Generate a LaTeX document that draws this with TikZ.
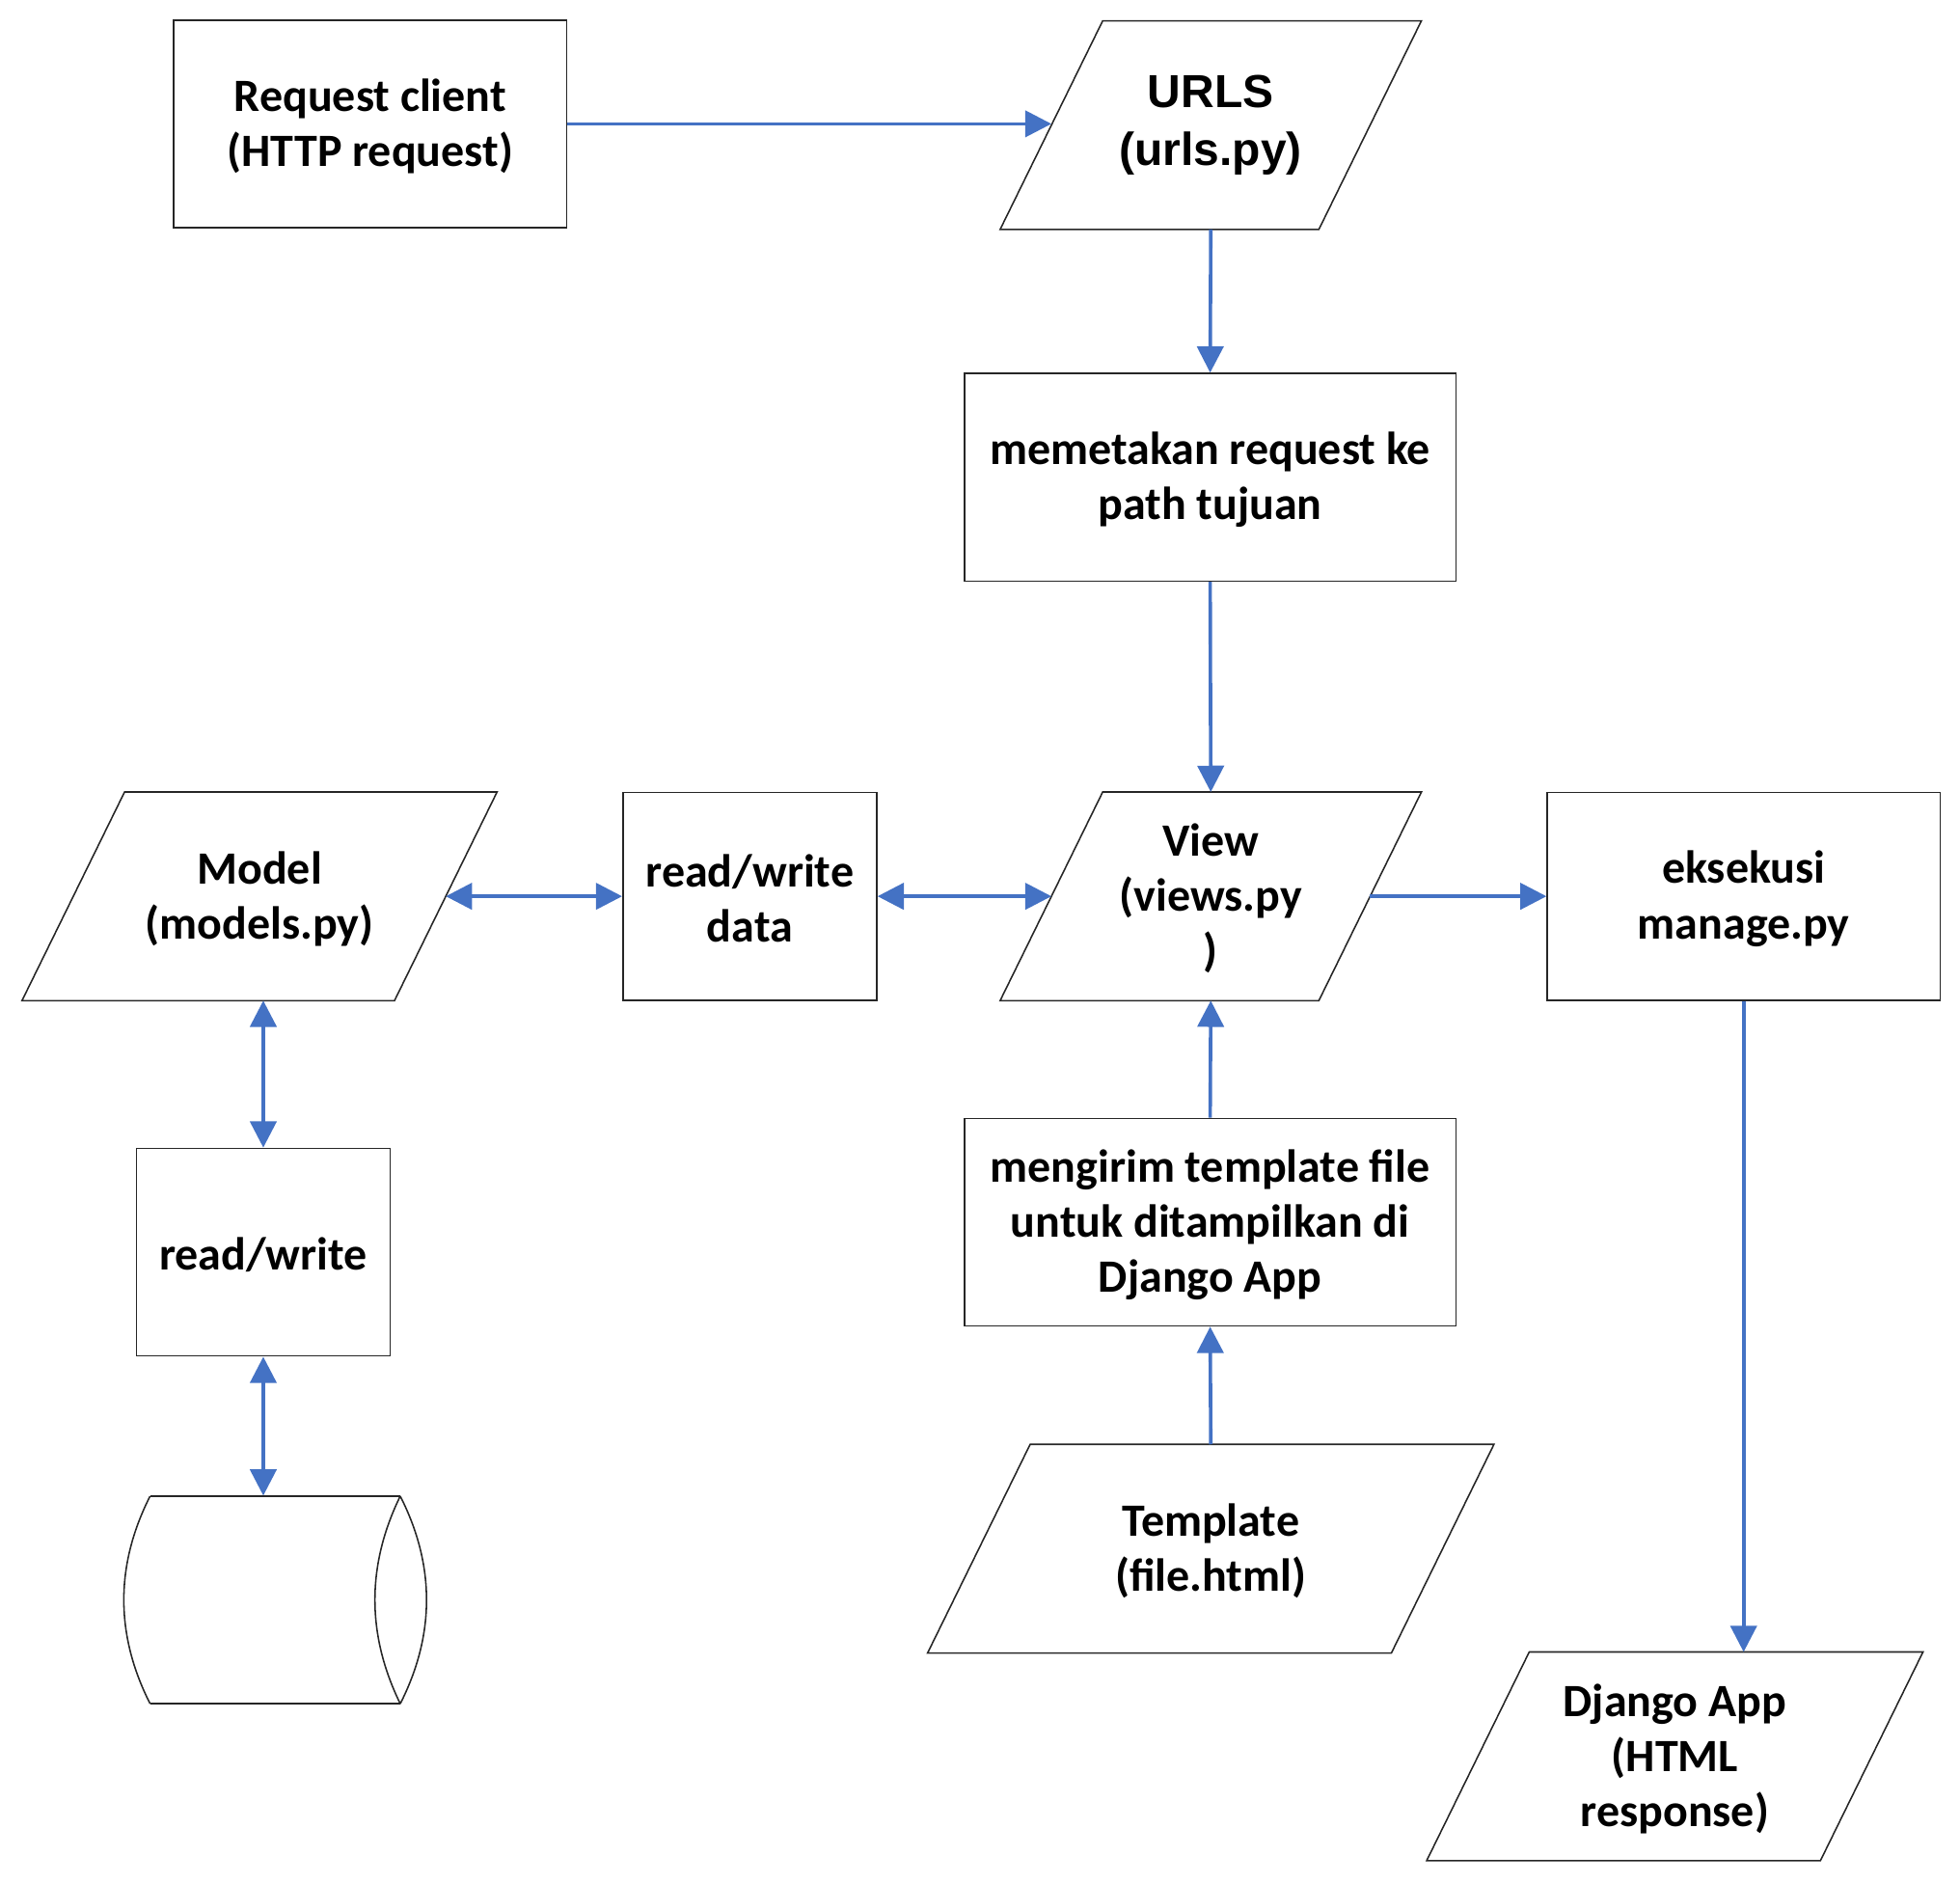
\documentclass[tikz,border=0pt]{standalone}
\usepackage{fontspec}
\setmainfont{Carlito}
\newfontfamily\arialfont{Liberation Sans}
\usetikzlibrary{arrows.meta}
\definecolor{officeblue}{HTML}{4472C4}
\tikzset{
  shapeline/.style={draw=black!85, line width=0.6pt},
  lbl/.style={inner sep=0pt, align=center, yshift=-1pt, font=\fontsize{18.5}{22}\selectfont\bfseries},
  arlbl/.style={inner sep=0pt, align=center, font=\fontsize{18.5}{23}\selectfont\arialfont\bfseries},
  boxnode/.style={shapeline, inner sep=0pt, minimum width=#1, minimum height=83pt},
  paranode/.style={inner sep=0pt, minimum width=#1, minimum height=83pt},
  conn/.style={draw=officeblue, line width=1.4pt, -{Triangle[length=10.5pt,width=10.5pt]}},
  bconn/.style={conn, {Triangle[length=10.5pt,width=10.5pt]}-{Triangle[length=10.5pt,width=10.5pt]}}
}
\newcommand\drawpara[1]{\draw[shapeline] ([xshift=20.5pt]#1.north west) -- ([xshift=20.5pt]#1.north east) -- ([xshift=-20.5pt]#1.south east) -- ([xshift=-20.5pt]#1.south west) -- cycle;}
\begin{document}
\begin{tikzpicture}[x=0.5pt,y=-0.5pt]
\useasboundingbox (0,0) rectangle (1567,1505);
% row 1
\node[boxnode=157pt, label={[lbl]center:{Request client\\(HTTP request)}}] (req) at (296,99) {};
\node[paranode=127pt, label={[arlbl]center:{URLS\\(urls.py)}}] (urls) at (968,100) {};
\drawpara{urls}
% row 2
\node[boxnode=196.5pt, label={[lbl]center:{memetakan request ke\\path tujuan}}] (mem) at (967.5,381.5) {};
% row 3
\node[paranode=148.5pt, label={[lbl]center:{Model\\(models.py)}}] (model) at (207.5,716.5) {};
\drawpara{model}
\node[boxnode=101.5pt, label={[lbl]center:{read/write\\data}}] (rwd) at (599.5,716.5) {};
\node[paranode=127pt, label={[lbl]center:{View\\(views.py\\)}}] (view) at (968,716.5) {};
\drawpara{view}
\node[boxnode=157pt, label={[lbl]center:{eksekusi\\manage.py}}] (exe) at (1394,716.5) {};
% row 4
\node[boxnode=101.5pt, label={[lbl]center:{read/write}}] (rw) at (210.5,1001) {};
\node[boxnode=196.5pt, label={[lbl]center:{mengirim template file\\untuk ditampilkan di\\Django App}}] (mem2) at (967.5,977) {};
% row 5
\node[paranode=185pt, label={[lbl]center:{Template\\(file.html)}}] (tmpl) at (968,1238) {};
\drawpara{tmpl}
\node[minimum width=100pt, minimum height=83pt, inner sep=0pt] (db) at (220,1279) {};
\draw[shapeline] (120,1196) -- (320,1196) (120,1362) -- (320,1362);
\draw[shapeline] (120,1196) .. controls (92,1251.3) and (92,1306.7) .. (120,1362);
\draw[shapeline] (320,1196) .. controls (348,1251.3) and (348,1306.7) .. (320,1362);
\draw[shapeline] (320,1196) .. controls (293,1251.3) and (293,1306.7) .. (320,1362);
% row 6
\node[paranode=157pt, label={[lbl]center:{Django App\\(HTML\\response)}}] (dj) at (1339,1404) {};
\drawpara{dj}
% connectors
\draw[conn] (req.east) -- (urls.west |- req.east);
\draw[conn] (urls.south) -- (mem.north);
\draw[conn] (mem.south) -- (view.north);
\draw[bconn] (model.east) -- (rwd.west);
\draw[bconn] (rwd.east) -- (view.west);
\draw[conn] (view.east) -- (exe.west);
\draw[bconn] (rw.north |- model.south) -- (rw.north);
\draw[bconn] (rw.south) -- (rw.south |- db.north);
\draw[conn] (mem2.north) -- (view.south);
\draw[conn] (tmpl.north) -- (mem2.south);
\draw[conn] (exe.south) -- (exe.south |- dj.north);
\end{tikzpicture}
\end{document}
